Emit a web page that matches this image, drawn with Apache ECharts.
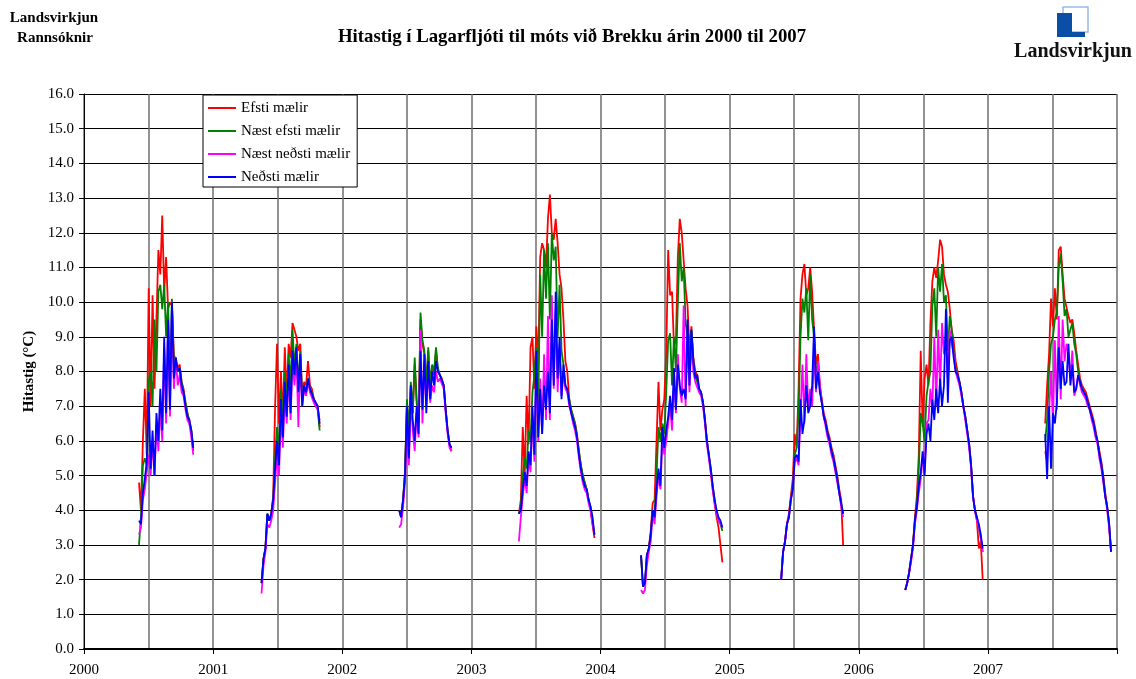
<!DOCTYPE html>
<html>
<head>
<meta charset="utf-8">
<script src="https://cdn.jsdelivr.net/npm/echarts@6/dist/echarts.min.js"></script>
<style>
  html, body { margin: 0; padding: 0; background: #fff; }
  #main { width: 1136px; height: 679px; }
</style>
</head>
<body>
<div id="main"></div>
<script>
// upphaf hvers sumars (ár, aukastafir) og bil milli punkta
const seasonStart = [2000.426, 2001.375, 2002.441, 2003.368, 2004.314, 2005.399, 2006.360, 2007.444]
const step = 0.015

// Efsti mælir
const efsti = [
  [4.8, 4.0, 6.0, 7.5, 5.6, 10.4, 7.0, 10.2, 7.5, 9.5, 11.5, 10.8, 12.5, 10.3, 11.3, 9.8, 10.0, 9.9, 8.5, 8.5, 8.1, 8.2, 7.7, 7.5, 7.1, 6.8, 6.6, 6.3, 5.7],
  [1.9, 2.6, 2.9, 3.9, 3.7, 3.9, 4.4, 7.0, 8.8, 6.5, 8.0, 6.6, 8.7, 7.2, 8.8, 8.4, 9.4, 9.2, 9.0, 8.6, 8.8, 7.3, 7.7, 7.6, 8.3, 7.6, 7.5, 7.2, 7.1, 7.0, 6.4],
  [4.0, 3.8, 4.3, 5.1, 7.1, 6.2, 7.6, 6.8, 8.2, 7.1, 6.5, 9.5, 8.8, 8.5, 7.5, 8.6, 7.5, 8.1, 7.9, 8.6, 8.0, 7.9, 7.8, 7.6, 6.9, 6.3, 5.9, 5.7],
  [3.9, 4.3, 6.4, 5.0, 7.3, 5.9, 8.7, 9.0, 7.5, 9.3, 8.2, 11.3, 11.7, 11.5, 11.0, 12.4, 13.1, 12.0, 11.8, 12.4, 11.7, 10.8, 10.4, 9.5, 8.3, 8.0, 7.2, 6.9, 6.7, 6.5, 6.2, 5.7, 5.3, 5.0, 4.8, 4.6, 4.3, 4.0, 3.6, 3.2],
  [2.7, 1.8, 1.9, 2.7, 2.9, 3.4, 4.2, 4.3, 6.0, 7.7, 6.3, 6.9, 7.2, 8.5, 11.5, 10.2, 10.3, 8.7, 8.9, 11.3, 12.4, 12.0, 11.2, 10.4, 9.9, 8.6, 9.3, 8.4, 8.0, 7.9, 7.5, 7.4, 7.1, 6.6, 6.0, 5.6, 5.1, 4.6, 4.2, 3.8, 3.5, 3.5, 2.5],
  [2.0, 2.8, 3.1, 3.6, 3.9, 4.4, 4.9, 6.2, 5.8, 7.5, 10.1, 10.8, 11.1, 10.2, 10.4, 11.0, 10.3, 9.2, 8.2, 8.5, 7.6, 7.2, 6.8, 6.6, 6.3, 6.1, 5.8, 5.6, 5.3, 5.0, 4.6, 4.3, 3.0],
  [1.7, 1.9, 2.2, 2.6, 3.0, 3.8, 4.4, 5.6, 8.6, 6.4, 7.8, 8.2, 7.6, 9.4, 10.6, 11.0, 10.7, 11.2, 11.8, 11.6, 10.8, 10.5, 10.3, 9.8, 9.2, 8.9, 8.3, 8.0, 7.7, 7.4, 7.0, 6.7, 6.3, 5.9, 5.3, 4.4, 4.0, 3.7, 2.9, 3.1, 2.0],
  [6.5, 7.6, 8.5, 10.1, 9.3, 10.4, 9.5, 11.5, 11.6, 10.8, 10.1, 10.1, 9.6, 9.4, 9.5, 9.1, 8.6, 8.2, 7.8, 7.6, 7.5, 7.4, 7.2, 7.0, 6.8, 6.6, 6.3, 6.0, 5.7, 5.4, 5.0, 4.5, 4.1, 3.6, 2.8]
]
// Næst efsti mælir
const naestEfsti = [
  [3.0, 3.8, 5.3, 5.5, 5.3, 7.7, 8.0, 7.0, 9.5, 8.0, 10.3, 10.5, 9.8, 10.5, 9.0, 10.0, 7.8, 10.1, 8.2, 8.4, 8.0, 8.1, 7.7, 7.4, 7.1, 6.8, 6.5, 6.3, 5.8],
  [1.9, 2.6, 2.9, 3.9, 3.7, 3.9, 4.3, 5.5, 6.4, 5.6, 7.5, 6.5, 8.0, 7.0, 8.5, 7.6, 9.2, 8.1, 8.8, 7.6, 8.6, 7.2, 7.6, 7.4, 7.8, 7.5, 7.4, 7.2, 7.0, 6.9, 6.3],
  [4.0, 3.8, 4.3, 5.1, 7.2, 6.3, 7.7, 6.8, 8.4, 7.2, 6.5, 9.7, 8.9, 8.6, 7.6, 8.7, 7.6, 8.2, 8.0, 8.7, 8.1, 7.9, 7.9, 7.6, 6.9, 6.3, 5.9, 5.8],
  [3.9, 4.1, 5.0, 5.5, 5.2, 6.3, 6.0, 7.4, 7.9, 8.7, 7.0, 10.8, 9.0, 11.5, 10.1, 11.7, 9.5, 12.0, 11.2, 11.6, 9.0, 10.5, 8.6, 8.2, 7.6, 7.6, 7.2, 6.9, 6.7, 6.5, 6.1, 5.7, 5.3, 5.0, 4.8, 4.6, 4.3, 4.1, 3.7, 3.3],
  [2.7, 1.8, 1.9, 2.7, 2.9, 3.3, 4.0, 3.9, 5.0, 6.4, 6.0, 6.5, 6.2, 7.4, 8.9, 9.1, 7.6, 9.0, 8.0, 10.0, 11.7, 10.6, 11.0, 9.4, 9.0, 8.4, 9.2, 8.3, 7.9, 7.9, 7.5, 7.4, 7.1, 6.6, 6.0, 5.6, 5.2, 4.7, 4.3, 3.9, 3.7, 3.6, 3.4],
  [2.0, 2.8, 3.1, 3.6, 3.8, 4.3, 4.7, 5.6, 5.8, 6.8, 9.0, 10.1, 9.7, 10.4, 8.9, 10.8, 9.5, 9.0, 8.0, 8.2, 7.5, 7.1, 6.7, 6.5, 6.2, 6.0, 5.7, 5.5, 5.2, 4.9, 4.5, 4.2, 3.9],
  [1.7, 1.9, 2.2, 2.6, 3.0, 3.7, 4.2, 5.2, 6.8, 6.5, 6.0, 7.3, 7.7, 8.0, 9.9, 10.4, 9.0, 11.0, 10.3, 11.1, 10.0, 10.2, 8.6, 9.6, 9.2, 8.6, 8.1, 7.9, 7.7, 7.4, 7.0, 6.7, 6.3, 5.9, 5.3, 4.4, 4.0, 3.8, 3.5, 3.2, 2.8],
  [6.0, 6.6, 8.0, 8.8, 9.0, 9.5, 9.7, 11.0, 11.4, 10.6, 9.6, 9.8, 9.0, 9.2, 9.4, 8.8, 8.5, 8.0, 7.7, 7.5, 7.4, 7.3, 7.1, 6.9, 6.7, 6.5, 6.2, 6.0, 5.6, 5.3, 4.9, 4.4, 4.1, 3.6, 2.8]
]
// Næst neðsti mælir
const naestNedsti = [
  [3.3, 3.5, 4.3, 4.6, 5.1, 5.6, 5.0, 6.0, 5.0, 6.5, 5.7, 7.0, 6.0, 8.7, 6.5, 9.3, 6.7, 9.8, 7.5, 8.4, 7.6, 7.9, 7.4, 7.3, 6.9, 6.6, 6.5, 6.1, 5.6],
  [1.6, 2.4, 2.8, 3.6, 3.5, 3.7, 4.0, 4.8, 5.6, 5.0, 6.8, 5.8, 7.4, 6.5, 8.0, 6.6, 8.3, 7.6, 8.5, 6.4, 8.3, 7.0, 7.5, 7.3, 7.7, 7.4, 7.4, 7.1, 7.0, 6.9, 6.6],
  [3.5, 3.6, 4.1, 4.8, 6.5, 5.3, 7.2, 6.3, 5.7, 6.8, 6.1, 9.2, 6.5, 8.3, 7.0, 8.0, 7.1, 7.6, 7.4, 8.0, 7.7, 7.8, 7.8, 7.5, 6.8, 6.2, 5.8, 5.7],
  [3.1, 3.8, 4.4, 4.9, 4.5, 5.5, 5.1, 6.7, 5.4, 8.2, 6.0, 7.8, 6.2, 8.5, 6.6, 9.6, 6.6, 10.2, 7.5, 9.8, 7.4, 8.7, 7.3, 8.0, 7.5, 7.4, 7.0, 6.8, 6.5, 6.3, 6.0, 5.5, 5.1, 4.8, 4.6, 4.5, 4.2, 4.0, 3.6, 3.3],
  [1.7, 1.6, 1.7, 2.4, 2.8, 3.1, 3.9, 3.6, 4.4, 5.0, 4.6, 6.0, 5.6, 6.0, 6.5, 7.0, 6.3, 7.8, 6.8, 8.5, 7.5, 7.1, 9.9, 7.0, 9.0, 7.4, 8.9, 8.0, 7.7, 7.7, 7.4, 7.3, 7.0, 6.5, 5.9, 5.5, 5.1, 4.6, 4.2, 3.9, 3.7, 3.6, 3.5],
  [2.0, 2.8, 3.1, 3.6, 3.8, 4.3, 4.6, 5.4, 5.5, 5.3, 6.8, 8.2, 6.5, 8.5, 6.9, 7.5, 7.0, 8.6, 7.4, 8.3, 7.6, 7.1, 6.7, 6.4, 6.1, 5.9, 5.6, 5.4, 5.1, 4.8, 4.5, 4.1, 3.8],
  [1.7, 1.9, 2.2, 2.5, 2.9, 3.6, 4.0, 4.5, 4.9, 5.5, 5.1, 6.5, 6.6, 7.5, 6.9, 9.0, 7.0, 9.2, 7.5, 9.4, 8.5, 9.0, 7.8, 9.2, 8.8, 8.5, 8.0, 7.8, 7.6, 7.3, 7.0, 6.6, 6.2, 5.8, 5.2, 4.4, 4.0, 3.7, 3.5, 3.2, 2.8],
  [5.7, 5.4, 6.8, 8.0, 6.5, 8.9, 6.9, 9.6, 7.2, 9.5, 8.3, 8.8, 8.5, 7.8, 8.6, 7.3, 7.5, 7.9, 7.6, 7.4, 7.3, 7.2, 7.0, 6.9, 6.6, 6.4, 6.1, 5.9, 5.5, 5.2, 4.8, 4.4, 4.0, 3.5, 2.8]
]
// Neðsti mælir
const nedsti = [
  [3.7, 3.6, 4.5, 4.9, 5.4, 7.4, 5.2, 6.3, 5.0, 6.8, 6.0, 7.5, 6.3, 9.0, 6.8, 9.5, 6.9, 10.0, 7.8, 8.4, 8.0, 8.1, 7.6, 7.4, 7.0, 6.7, 6.6, 6.3, 5.8],
  [1.9, 2.6, 2.9, 3.9, 3.7, 3.9, 4.3, 5.2, 6.0, 5.3, 7.2, 6.1, 7.7, 6.7, 8.2, 6.8, 8.6, 7.9, 8.7, 7.4, 8.5, 7.0, 7.6, 7.4, 7.8, 7.5, 7.5, 7.2, 7.1, 7.0, 6.5],
  [4.0, 3.8, 4.3, 5.0, 7.0, 5.5, 7.6, 6.6, 6.0, 7.0, 6.2, 8.6, 6.9, 8.5, 6.8, 8.3, 7.2, 8.0, 7.6, 8.3, 8.0, 7.9, 7.9, 7.6, 6.9, 6.3, 5.9, 5.8],
  [3.9, 4.0, 4.6, 5.1, 4.7, 5.7, 5.3, 7.0, 5.6, 8.6, 6.1, 7.5, 6.2, 7.6, 6.9, 8.0, 6.8, 9.5, 7.6, 10.3, 7.8, 9.0, 7.2, 8.2, 7.6, 7.5, 7.1, 6.8, 6.6, 6.4, 6.1, 5.6, 5.2, 4.9, 4.7, 4.6, 4.3, 4.1, 3.8, 3.3],
  [2.7, 1.8, 1.9, 2.7, 2.9, 3.3, 4.0, 3.8, 4.6, 5.2, 4.7, 6.4, 5.8, 6.3, 6.7, 7.3, 6.6, 8.1, 6.9, 8.2, 7.6, 7.3, 7.5, 7.2, 9.5, 7.6, 9.2, 8.3, 7.8, 7.9, 7.5, 7.4, 7.1, 6.6, 6.0, 5.6, 5.2, 4.7, 4.3, 4.0, 3.8, 3.7, 3.5],
  [2.0, 2.8, 3.1, 3.6, 3.8, 4.3, 4.6, 5.5, 5.6, 5.4, 7.2, 6.2, 6.6, 7.6, 6.8, 7.0, 7.6, 9.3, 7.5, 8.0, 7.4, 7.1, 6.7, 6.5, 6.2, 6.0, 5.7, 5.5, 5.2, 4.9, 4.5, 4.2, 3.9],
  [1.7, 1.9, 2.2, 2.6, 3.0, 3.7, 4.1, 4.7, 5.1, 5.7, 5.0, 6.2, 6.5, 6.0, 7.2, 6.6, 7.5, 6.8, 7.8, 7.0, 7.6, 9.8, 7.1, 8.9, 9.0, 8.4, 8.0, 7.9, 7.7, 7.4, 7.0, 6.7, 6.3, 5.9, 5.3, 4.4, 4.0, 3.8, 3.6, 3.3, 2.9],
  [6.2, 4.9, 7.0, 5.2, 6.8, 6.5, 7.1, 8.7, 7.5, 8.3, 7.6, 7.7, 8.8, 7.6, 8.2, 7.4, 7.5, 7.9, 7.7, 7.5, 7.4, 7.3, 7.1, 6.9, 6.7, 6.5, 6.2, 6.0, 5.6, 5.3, 4.9, 4.4, 4.1, 3.6, 2.8]
]

const seriesNames = ['Efsti mælir', 'Næst efsti mælir', 'Næst neðsti mælir', 'Neðsti mælir']
const seriesColors = ['#ff0000', '#008000', '#ff00ff', '#0000ff']

const serif = "'Liberation Serif', 'Times New Roman', serif"

// setja sumrin saman, með bili á milli svo línan slitni
function buildData (seasons) {
  let out = []
  for (let k = 0; k < seasons.length; k++) {
    let vals = seasons[k]
    for (let i = 0; i < vals.length; i++) {
      out.push([seasonStart[k] + i * step, vals[i]])
    }
    out.push([seasonStart[k] + vals.length * step, '-'])
  }
  return out
}

const allData = [efsti, naestEfsti, naestNedsti, nedsti]

const myChart = echarts.init(document.getElementById('main'))
myChart.setOption({
  animation: false,
  backgroundColor: '#fff',
  textStyle: { fontFamily: serif },
  graphic: [
    { type: 'text', x: 54, y: 18, style: { text: 'Landsvirkjun', fill: '#000', font: 'bold 15px ' + serif, textAlign: 'center', textVerticalAlign: 'middle' } },
    { type: 'text', x: 55, y: 38, style: { text: 'Rannsóknir', fill: '#000', font: 'bold 15px ' + serif, textAlign: 'center', textVerticalAlign: 'middle' } },
    { type: 'text', x: 572, y: 37, style: { text: 'Hitastig í Lagarfljóti til móts við Brekku árin 2000 til 2007', fill: '#000', font: 'bold 18.8px ' + serif, textAlign: 'center', textVerticalAlign: 'middle' } },
    { type: 'rect', shape: { x: 1063, y: 7, width: 25, height: 25 }, style: { fill: '#fff', stroke: '#9db8e6', lineWidth: 1.5 } },
    { type: 'polygon', shape: { points: [[1057, 13], [1072, 13], [1072, 32], [1085, 32], [1085, 37], [1057, 37]] }, style: { fill: '#0b4ea8' } },
    { type: 'text', x: 1073, y: 52, style: { text: 'Landsvirkjun', fill: '#111', font: 'bold 20px ' + serif, textAlign: 'center', textVerticalAlign: 'middle' } }
  ],
  legend: {
    orient: 'vertical',
    left: 203,
    top: 95,
    backgroundColor: '#fff',
    borderColor: '#000',
    borderWidth: 1,
    borderRadius: 0,
    padding: [5, 7, 2, 5],
    itemGap: 7,
    itemWidth: 28,
    itemHeight: 2,
    icon: 'rect',
    data: seriesNames,
    textStyle: { fontFamily: serif, fontSize: 15, color: '#000', lineHeight: 16 }
  },
  grid: { left: 84, right: 19, top: 94, bottom: 30 },
  xAxis: [
    {
      type: 'value',
      min: 2000,
      max: 2008,
      interval: 0.5,
      position: 'bottom',
      axisLine: { show: true, onZero: false, lineStyle: { color: '#000', width: 2 } },
      axisTick: { show: false },
      axisLabel: { show: false },
      splitLine: { show: true, lineStyle: { color: '#6e6e6e', width: 1.5 } }
    },
    {
      type: 'value',
      min: 2000,
      max: 2008,
      interval: 1,
      position: 'bottom',
      axisLine: { show: false },
      axisTick: { show: true, inside: false, length: 5, lineStyle: { color: '#000', width: 1 } },
      axisLabel: {
        margin: 14,
        fontFamily: serif,
        fontSize: 15,
        color: '#000',
        formatter: function (v) { return v < 2008 ? String(v) : '' }
      },
      splitLine: { show: false }
    }
  ],
  yAxis: {
    type: 'value',
    min: 0,
    max: 16,
    interval: 1,
    name: 'Hitastig (°C)',
    nameLocation: 'middle',
    nameRotate: 90,
    nameGap: 47,
    nameTextStyle: { fontFamily: serif, fontWeight: 'bold', fontSize: 15, color: '#000' },
    axisLine: { show: true, lineStyle: { color: '#000', width: 1 } },
    axisTick: { show: true, inside: false, length: 5, lineStyle: { color: '#000' } },
    axisLabel: {
      margin: 10,
      fontFamily: serif,
      fontSize: 15,
      color: '#000',
      formatter: function (v) { return v.toFixed(1) }
    },
    splitLine: { show: true, lineStyle: { color: '#000', width: 1 } }
  },
  series: seriesNames.map(function (name, n) {
    return {
      name: name,
      type: 'line',
      xAxisIndex: 0,
      data: buildData(allData[n]),
      showSymbol: false,
      symbol: 'none',
      connectNulls: false,
      color: seriesColors[n],
      lineStyle: { color: seriesColors[n], width: 1.8 }
    }
  })
})
</script>
</body>
</html>
